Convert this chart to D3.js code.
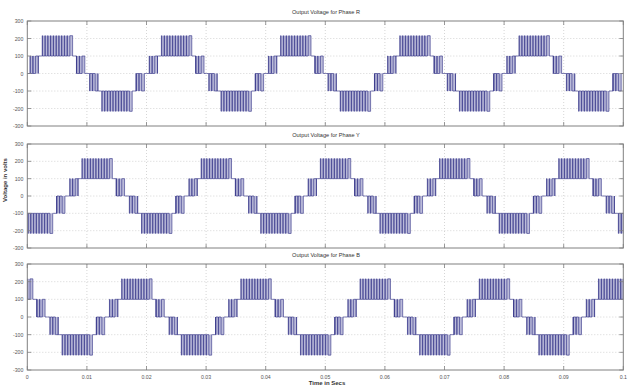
<!DOCTYPE html>
<html>
<head>
<meta charset="utf-8">
<script src="https://cdn.jsdelivr.net/npm/d3@7"></script>
<style>
  body { margin: 0; background: #fff; }
  svg { display: block; font-family: "Liberation Sans", Arial, sans-serif; }
</style>
</head>
<body>
<div id="chart"></div>
<script>
// phases and their lag (ms) behind phase R
var phases = ["R", "Y", "B"];
var phaseDelayMs = [0, 6.667, 13.333];
var zeroCrossMs = 0.05;
var periodMs = 20;

// one positive half cycle, ms after the zero crossing
var bandStart  = [0,   0.4, 1.8,  2.45, 7.55, 8.2, 9.6];
var bandEnd    = [0.4, 1.8, 2.45, 7.55, 8.2,  9.6, 10];
var bandLow    = [0,   0,   100,  100,  100,  0,   0];
var bandHigh   = [0,   100, 100,  216,  100,  100, 0];
var bandPulses = [0,   3,   0,    11,   0,    3,   0];

var xTicks = [0, 0.01, 0.02, 0.03, 0.04, 0.05, 0.06, 0.07, 0.08, 0.09, 0.1];
var yTicks = [-300, -200, -100, 0, 100, 200, 300];

var W = 629, H = 385;
var left = 27.3, right = 623.3;
var panels = [
  { top: 21,  bottom: 126 },
  { top: 144, bottom: 248 },
  { top: 264, bottom: 370 }
];

var colors = {
  line: '#2e2e84',
  band: '#bbbbd9',
  grid: '#c4c4c4',
  axis: '#808080',
  text: '#555'
};

var svg = d3.select('#chart').append('svg')
  .attr('width', W)
  .attr('height', H);

var x = d3.scaleLinear().domain([0, 0.1]).range([left, right]);

// build the band list and pulse points for a phase
function waveform(p) {
  var bands = [];
  var pts = [];
  for (var k = -1; k <= 6; k++) {
    for (var h = 0; h < 2; h++) {
      var sign = h ? -1 : 1;
      var base = zeroCrossMs + phaseDelayMs[p] + k * periodMs + h * periodMs / 2;
      for (var i = 0; i < bandStart.length; i++) {
        var t0 = base + bandStart[i], t1 = base + bandEnd[i];
        var lo = sign * bandLow[i], hi = sign * bandHigh[i];
        var n = bandPulses[i];
        if (n == 0) {
          pts.push([t0, lo], [t1, lo]);
          continue;
        }
        bands.push({ t0: t0, t1: t1, lo: lo, hi: hi });
        var dt = (t1 - t0) / n;
        for (var j = 0; j < n; j++) {
          var a = t0 + j * dt;
          var b = (j == n - 1) ? t1 : a + dt * 0.12;
          pts.push([a, lo], [a, hi], [b, hi], [b, lo]);
        }
        pts.push([t1, lo]);
      }
    }
  }
  return { bands: bands, pts: pts };
}

panels.forEach(function(pan, p) {
  var y = d3.scaleLinear().domain([-300, 300]).range([pan.bottom, pan.top]);
  var g = svg.append('g');

  g.append('clipPath').attr('id', 'clip' + p)
    .append('rect')
    .attr('x', left).attr('y', pan.top)
    .attr('width', right - left).attr('height', pan.bottom - pan.top);

  // dotted grid
  g.selectAll('.gx').data(xTicks.slice(1, -1)).enter().append('line')
    .attr('x1', function(d) { return x(d); }).attr('x2', function(d) { return x(d); })
    .attr('y1', pan.top).attr('y2', pan.bottom)
    .attr('stroke', colors.grid).attr('stroke-width', 0.7)
    .attr('stroke-dasharray', '1,2');
  g.selectAll('.gy').data(yTicks.slice(1, -1)).enter().append('line')
    .attr('x1', left).attr('x2', right)
    .attr('y1', function(d) { return y(d); }).attr('y2', function(d) { return y(d); })
    .attr('stroke', colors.grid).attr('stroke-width', 0.7)
    .attr('stroke-dasharray', '1,2');

  var wf = waveform(p);
  var plot = g.append('g').attr('clip-path', 'url(#clip' + p + ')');

  // blurred switching bands
  plot.selectAll('rect.band').data(wf.bands).enter().append('rect')
    .attr('class', 'band')
    .attr('x', function(d) { return x(d.t0 / 1000); })
    .attr('width', function(d) { return x(d.t1 / 1000) - x(d.t0 / 1000); })
    .attr('y', function(d) { return y(Math.max(d.lo, d.hi)); })
    .attr('height', function(d) { return Math.abs(y(d.lo) - y(d.hi)); })
    .attr('fill', colors.band);

  var line = d3.line()
    .x(function(d) { return x(d[0] / 1000); })
    .y(function(d) { return y(d[1]); });

  plot.append('path')
    .attr('d', line(wf.pts))
    .attr('fill', 'none')
    .attr('stroke', colors.line)
    .attr('stroke-width', 0.6);

  // axes box
  g.append('rect')
    .attr('x', left).attr('y', pan.top)
    .attr('width', right - left).attr('height', pan.bottom - pan.top)
    .attr('fill', 'none').attr('stroke', colors.axis).attr('stroke-width', 1);

  // ticks on all four sides
  xTicks.forEach(function(t) {
    g.append('line').attr('x1', x(t)).attr('x2', x(t)).attr('y1', pan.top).attr('y2', pan.top + 4)
      .attr('stroke', colors.axis).attr('stroke-width', 0.8);
    g.append('line').attr('x1', x(t)).attr('x2', x(t)).attr('y1', pan.bottom).attr('y2', pan.bottom - 4)
      .attr('stroke', colors.axis).attr('stroke-width', 0.8);
  });
  yTicks.forEach(function(t) {
    g.append('line').attr('x1', left).attr('x2', left + 4).attr('y1', y(t)).attr('y2', y(t))
      .attr('stroke', colors.axis).attr('stroke-width', 0.8);
    g.append('line').attr('x1', right).attr('x2', right - 4).attr('y1', y(t)).attr('y2', y(t))
      .attr('stroke', colors.axis).attr('stroke-width', 0.8);
  });

  g.selectAll('.yl').data(yTicks).enter().append('text')
    .attr('x', left - 4)
    .attr('y', function(d) { return y(d) + 2; })
    .attr('text-anchor', 'end')
    .attr('font-size', 5.2)
    .attr('fill', colors.text)
    .text(function(d) { return d; });

  g.append('text')
    .attr('x', 326).attr('y', pan.top - 7)
    .attr('text-anchor', 'middle')
    .attr('font-size', 5.6)
    .attr('fill', '#333')
    .text('Output Voltage for Phase ' + phases[p]);

  if (p == 2) {
    g.selectAll('.xl').data(xTicks).enter().append('text')
      .attr('x', function(d) { return x(d); })
      .attr('y', pan.bottom + 9)
      .attr('text-anchor', 'middle')
      .attr('font-size', 5.2)
      .attr('fill', colors.text)
      .text(function(d) { return d; });
  }
});

svg.append('text')
  .attr('x', 327).attr('y', 385)
  .attr('text-anchor', 'middle')
  .attr('font-size', 6)
  .attr('font-weight', 'bold')
  .attr('fill', '#333')
  .text('Time in Secs');

svg.append('text')
  .attr('transform', 'translate(7,180) rotate(-90)')
  .attr('text-anchor', 'middle')
  .attr('font-size', 6)
  .attr('font-weight', 'bold')
  .attr('fill', '#333')
  .text('Voltage in volts');
</script>
</body>
</html>
